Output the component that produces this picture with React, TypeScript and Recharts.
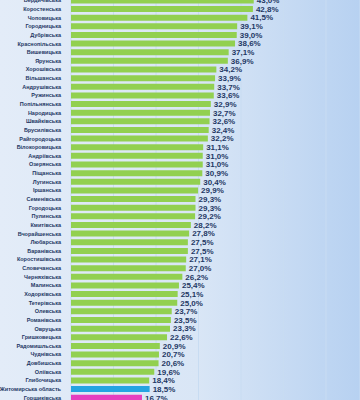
import { Bar, BarChart, CartesianGrid, Cell, LabelList, XAxis, YAxis } from "recharts";

const hromadas = [
  "Бердичівська", "Коростенська", "Чоповицька", "Городницька", "Дубрівська",
  "Краснопільська", "Вишевицька", "Ярунська", "Хорошівська", "Вільшанська",
  "Андрушівська", "Ружинська", "Попільнянська", "Народицька", "Швайківська",
  "Брусилівська", "Райгородоцька", "Білокоровицька", "Андріївська", "Озерянська",
  "Піщанська", "Лугинська", "Іршанська", "Семенівська", "Городоцька",
  "Пулинська", "Кмитівська", "Вчорайшенська", "Любарська", "Баранівська",
  "Коростишівська", "Словечанська", "Черняхівська", "Малинська", "Ходорківська",
  "Тетерівська", "Олевська", "Романівська", "Овруцька", "Гришковецька",
  "Радомишльська", "Чуднівська", "Довбишська", "Оліївська", "Глибочицька",
  "Житомирська область", "Горщиківська",
];

const shares = [
  43.0, 42.8, 41.5, 39.1, 39.0,
  38.6, 37.1, 36.9, 34.2, 33.9,
  33.7, 33.6, 32.9, 32.7, 32.6,
  32.4, 32.2, 31.1, 31.0, 31.0,
  30.9, 30.4, 29.9, 29.3, 29.3,
  29.2, 28.2, 27.8, 27.5, 27.5,
  27.1, 27.0, 26.2, 25.4, 25.1,
  25.0, 23.7, 23.5, 23.3, 22.6,
  20.9, 20.7, 20.6, 19.6, 18.4,
  18.5, 16.7,
];

const oblastName = "Житомирська область";
const highlighted = "Горщиківська";

const rows = hromadas.map((name, i) => ({ name, value: shares[i] }));

const barColor = (name: string) =>
  name === oblastName ? "#24a4e2" : name === highlighted ? "#e53fc0" : "#92d050";

// plain one-line tick, recharts would wrap the long oblast name
const NameTick = ({ x, y, payload }: any) => (
  <text
    x={x}
    y={y}
    dy={2}
    textAnchor="end"
    fontSize={5.5}
    fontWeight={700}
    fill="#1f3864"
    fontFamily="Liberation Sans"
  >
    {payload.value}
  </text>
);

const App = () => {
  return (
    <div
      style={{
        position: "absolute",
        left: 0,
        top: -4,
        width: 360,
        height: 406,
        background: "linear-gradient(to right, #e3ecf8 0%, #d9e6f6 55%, #b7d1f1 100%)",
      }}
    >
      <BarChart
        width={360}
        height={406}
        data={rows}
        layout="vertical"
        margin={{ top: 0, right: 0, bottom: 0, left: 0 }}
        barCategoryGap="16%"
      >
        <CartesianGrid horizontal={false} stroke="#c8dcf2" />
        <XAxis type="number" domain={[0, 68]} ticks={[0, 10, 20, 30, 40, 50, 60]} hide />
        <YAxis
          type="category"
          dataKey="name"
          width={71}
          interval={0}
          tickLine={false}
          axisLine={false}
          tickMargin={4}
          tick={<NameTick />}
        />
        <Bar dataKey="value" isAnimationActive={false}>
          {rows.map((r) => (
            <Cell key={r.name} fill={barColor(r.name)} />
          ))}
          <LabelList
            dataKey="value"
            position="right"
            offset={3}
            formatter={(v: any) => `${Number(v).toFixed(1).replace(".", ",")}%`}
            style={{ fontSize: 8, fontWeight: 700, fill: "#1f3864", fontFamily: "Liberation Sans" }}
          />
        </Bar>
      </BarChart>
    </div>
  );
};

export default App;
